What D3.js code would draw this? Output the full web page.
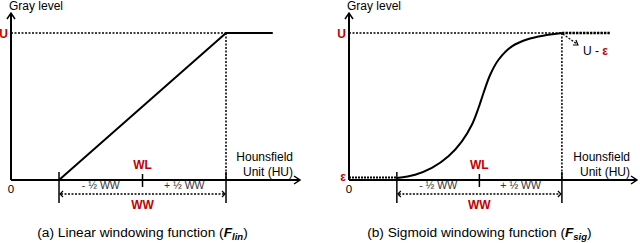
<!DOCTYPE html>
<html><head><meta charset="utf-8">
<script src="https://cdn.jsdelivr.net/npm/d3@7"></script>
<style>
html,body{margin:0;padding:0;background:#fff;}
svg{display:block;font-family:"Liberation Sans",Arial,sans-serif;}
</style></head>
<body>
<svg id="c" width="640" height="243"></svg>
<script>
// ---- data (normalized: HU in units of half window width around WL, gray in units of U)
const huLin = [-1, 1, 1.56];
const grayLin = [0, 1, 1];
const huSig = [-1.0, -0.778, -0.576, -0.375, -0.212, -0.091, -0.011, 0.05, 0.131, 0.232, 0.394, 0.595, 0.798, 1.0];
const graySig = [0.014, 0.036, 0.082, 0.161, 0.263, 0.376, 0.49, 0.592, 0.716, 0.818, 0.909, 0.959, 0.984, 1.0];
const sigFlatEnd = 1.58;
const epsLevel = 0.014;
const tickLabels = ["- \u00BD WW", "+ \u00BD WW"];
const captions = ["(a) Linear windowing function (", "(b) Sigmoid windowing function ("];
const subs = ["lin", "sig"];

const svg = d3.select("#c");
const red = "#c00000";

const y = d3.scaleLinear().domain([0, 1]).range([180, 33]);

function panel(opts) {
  const x = d3.scaleLinear().domain(opts.domain).range(opts.range);
  const g = svg.append("g");
  const x0 = x(opts.domain[0]), x1 = x(opts.domain[1]);
  const yTop = y(1.136), yBase = y(0);

  // dotted guide lines
  g.append("line").attr("x1", x0).attr("x2", x(1)).attr("y1", y(1)).attr("y2", y(1))
    .attr("stroke", "#000").attr("stroke-width", 1.5).attr("stroke-dasharray", "2,1.5");
  g.append("line").attr("x1", x(1)).attr("x2", x(1)).attr("y1", y(1)).attr("y2", yBase)
    .attr("stroke", "#000").attr("stroke-width", 1.5).attr("stroke-dasharray", "2,1.5");

  // axes
  g.append("line").attr("x1", x0).attr("x2", x0).attr("y1", yBase).attr("y2", yTop + 1)
    .attr("stroke", "#000").attr("stroke-width", 2);
  g.append("line").attr("x1", x0).attr("x2", x1 - 1).attr("y1", yBase).attr("y2", yBase)
    .attr("stroke", "#000").attr("stroke-width", 2);
  g.append("path").attr("d", `M${x0-4},${yTop+6}L${x0},${yTop}L${x0+4},${yTop+6}`)
    .attr("fill", "none").attr("stroke", "#000").attr("stroke-width", 1.5);
  g.append("path").attr("d", `M${x1-6},${yBase-4}L${x1},${yBase}L${x1-6},${yBase+4}`)
    .attr("fill", "none").attr("stroke", "#000").attr("stroke-width", 1.5);

  // window ticks
  [-1, 1].forEach(v => {
    g.append("line").attr("x1", x(v)).attr("x2", x(v)).attr("y1", yBase - 8).attr("y2", 203)
      .attr("stroke", "#000").attr("stroke-width", 1.5);
  });
  g.append("line").attr("x1", x(0)).attr("x2", x(0)).attr("y1", yBase - 6).attr("y2", yBase + 7)
    .attr("stroke", "#000").attr("stroke-width", 1.5);

  // WW arrow
  const ya = 194;
  g.append("line").attr("x1", x(-1) + 2).attr("x2", x(1) - 2).attr("y1", ya).attr("y2", ya)
    .attr("stroke", "#000").attr("stroke-width", 1.3).attr("stroke-dasharray", "2,1.5");
  g.append("path").attr("d", `M${x(-1)+4},${ya-3}L${x(-1)+1},${ya}L${x(-1)+4},${ya+3}`)
    .attr("fill", "none").attr("stroke", "#000").attr("stroke-width", 1.2);
  g.append("path").attr("d", `M${x(1)-4},${ya-3}L${x(1)-1},${ya}L${x(1)-4},${ya+3}`)
    .attr("fill", "none").attr("stroke", "#000").attr("stroke-width", 1.2);

  // curve
  opts.drawCurve(g, x);

  // texts
  g.append("text").attr("x", x0 - 2).attr("y", 10).attr("font-size", 12).attr("fill", "#000").text("Gray level");
  g.append("text").attr("x", x0 - 3).attr("y", y(1) + 4.5).attr("text-anchor", "end")
    .attr("font-size", 12).attr("font-weight", "bold").attr("fill", red).text("U");
  g.append("text").attr("x", x0).attr("y", 193).attr("text-anchor", "middle")
    .attr("font-size", 11.5).attr("fill", "#000").text("0");
  g.append("text").attr("x", x1 - 7).attr("y", 161).attr("text-anchor", "end")
    .attr("font-size", 12).attr("fill", "#000").text("Hounsfield");
  g.append("text").attr("x", x1 - 7).attr("y", 176).attr("text-anchor", "end")
    .attr("font-size", 12).attr("fill", "#000").text("Unit (HU)");
  g.append("text").attr("x", x(0)).attr("y", 169).attr("text-anchor", "middle")
    .attr("font-size", 12).attr("font-weight", "bold").attr("fill", red).text("WL");
  g.append("text").attr("x", x(0)).attr("y", 208.5).attr("text-anchor", "middle")
    .attr("font-size", 12).attr("font-weight", "bold").attr("fill", red).text("WW");
  g.append("text").attr("x", x(-0.5)).attr("y", 189).attr("text-anchor", "middle")
    .attr("font-size", 10.5).attr("fill", "#333").text(tickLabels[0]);
  g.append("text").attr("x", x(0.5)).attr("y", 189).attr("text-anchor", "middle")
    .attr("font-size", 10.5).attr("fill", "#333").text(tickLabels[1]);
  const cap = g.append("text").attr("x", x(0)).attr("y", 237).attr("text-anchor", "middle")
    .attr("font-size", 13.7).attr("fill", "#000");
  cap.append("tspan").text(captions[opts.i]);
  cap.append("tspan").attr("font-weight", "bold").attr("font-style", "italic").text("F");
  cap.append("tspan").attr("font-weight", "bold").attr("font-style", "italic").attr("font-size", 9.5).attr("dy", 3).text(subs[opts.i]);
  cap.append("tspan").attr("dy", -3).text(")");
  return {g, x};
}

// Panel (a) linear
panel({
  i: 0, domain: [-1.575, 1.886], range: [11, 300],
  drawCurve: (g, x) => {
    const line = d3.line().x(d => x(d[0])).y(d => y(d[1]));
    g.append("path").datum(huLin.map((h, k) => [h, grayLin[k]]))
      .attr("d", line).attr("fill", "none").attr("stroke", "#000").attr("stroke-width", 2);
  }
});

// Panel (b) sigmoid
panel({
  i: 1, domain: [-1.58, 1.91], range: [349, 637],
  drawCurve: (g, x) => {
    const line = d3.line().x(d => x(d[0])).y(d => y(d[1])).curve(d3.curveCatmullRom);
    g.append("path").datum(huSig.map((h, k) => [h, graySig[k]]))
      .attr("d", line).attr("fill", "none").attr("stroke", "#000").attr("stroke-width", 2);
    // flat top beyond window (dashed heavy)
    g.append("line").attr("x1", x(1)).attr("x2", x(sigFlatEnd)).attr("y1", y(1)).attr("y2", y(1))
      .attr("stroke", "#000").attr("stroke-width", 2.5).attr("stroke-dasharray", "2.5,1");
    // epsilon level before window
    g.append("line").attr("x1", x(-1.58)).attr("x2", x(-1)).attr("y1", y(epsLevel) - 0.5).attr("y2", y(epsLevel) - 0.5)
      .attr("stroke", "#000").attr("stroke-width", 2).attr("stroke-dasharray", "2,1");
    // epsilon label
    g.append("text").attr("x", x(-1.58) - 3).attr("y", y(epsLevel) + 3.5).attr("text-anchor", "end")
      .attr("font-size", 12).attr("font-weight", "bold").attr("fill", red).text("\u03B5");
    // U - eps pointer
    const px = x(1), py = y(1);
    g.append("line").attr("x1", px + 1).attr("y1", py + 1).attr("x2", px + 15).attr("y2", py + 11)
      .attr("stroke", "#000").attr("stroke-width", 1.3).attr("stroke-dasharray", "2,1.5");
    g.append("path").attr("d", `M${px+11},${py+12}L${px+16},${py+12}L${px+14},${py+7}`)
      .attr("fill", "none").attr("stroke", "#000").attr("stroke-width", 1.2);
    const t = g.append("text").attr("x", px + 21).attr("y", py + 22).attr("font-size", 12).attr("fill", "#000");
    t.append("tspan").text("U - ");
    t.append("tspan").attr("fill", red).attr("font-weight", "bold").text("\u03B5");
  }
});
</script>
</body></html>
